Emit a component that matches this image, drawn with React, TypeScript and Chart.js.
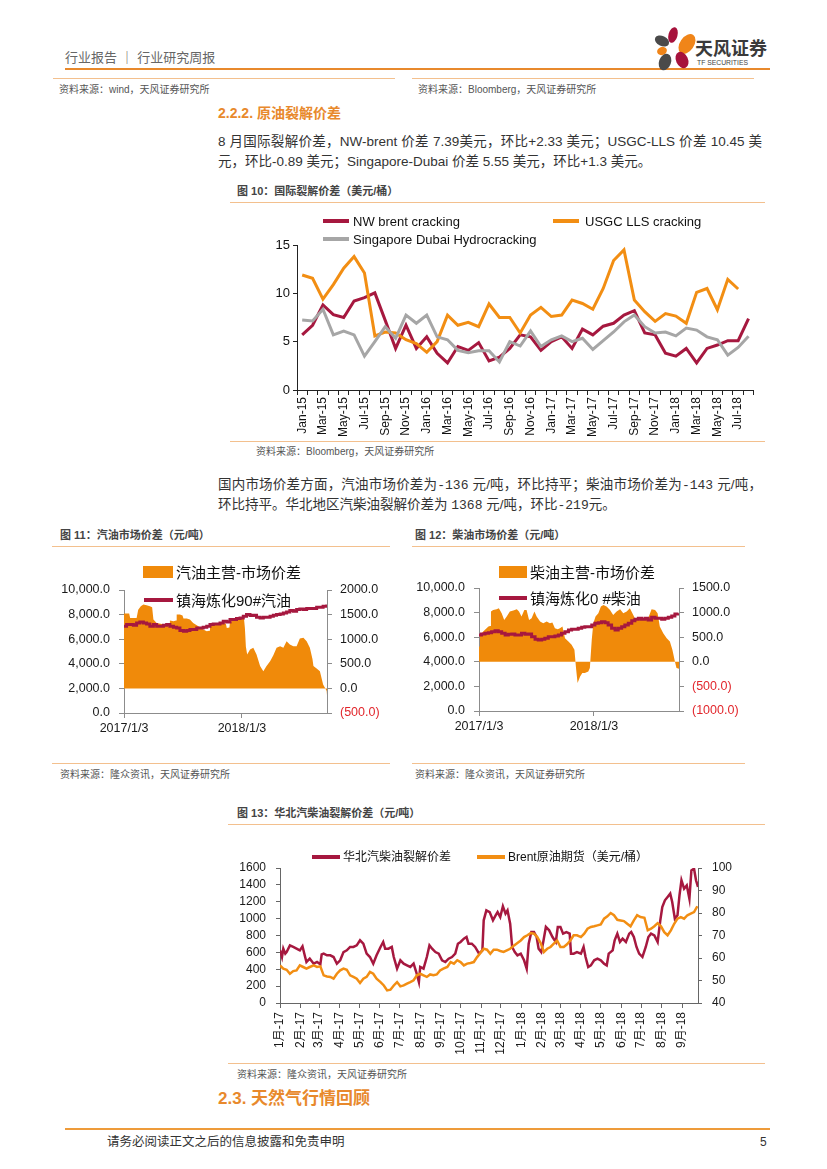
import React, { useEffect, useRef } from 'react';
import { Chart, registerables } from 'chart.js';
Chart.register(...registerables);

const LAT = "'Liberation Sans', Arial, 'Noto Sans CJK SC', sans-serif";
const CJK = "'Liberation Sans', 'Noto Sans CJK SC', sans-serif";
const MONO = "'Liberation Mono', 'DejaVu Sans Mono', monospace";

const RED = '#A6183F';
const ORANGE = '#F28E13';
const GRAY = '#A6A6A6';
const AREA = '#F08A0A';
const HEAD = '#E8892C';
const THIN = '#F3C08E';

// ---------- Figure 10: international cracking spreads (USD/bbl) ----------
const months = [
  'Jan-15','Feb-15','Mar-15','Apr-15','May-15','Jun-15','Jul-15','Aug-15','Sep-15','Oct-15','Nov-15','Dec-15',
  'Jan-16','Feb-16','Mar-16','Apr-16','May-16','Jun-16','Jul-16','Aug-16','Sep-16','Oct-16','Nov-16','Dec-16',
  'Jan-17','Feb-17','Mar-17','Apr-17','May-17','Jun-17','Jul-17','Aug-17','Sep-17','Oct-17','Nov-17','Dec-17',
  'Jan-18','Feb-18','Mar-18','Apr-18','May-18','Jun-18','Jul-18','Aug-18',
];
const nwBrent = [
  5.7,6.7,8.8,7.8,7.5,9.2,9.55,10.05,7.2,4.3,6.7,4.3,
  5.5,3.8,2.8,4.5,4.1,4.9,3.0,3.4,4.3,5.7,5.5,4.1,
  5.0,5.5,4.3,6.3,5.7,6.6,6.9,7.75,8.2,5.9,5.7,3.8,
  3.5,4.3,2.8,4.3,4.65,5.1,5.1,7.39,
];
const usgcLls = [
  11.9,11.55,9.4,10.9,12.6,13.8,12.1,5.6,6.0,5.9,5.2,4.8,
  3.9,5.0,7.75,6.7,7.0,6.55,8.9,7.5,7.5,5.9,7.75,8.55,
  7.6,7.75,9.3,8.95,8.35,10.5,13.4,14.5,9.3,8.1,7.1,7.9,
  7.65,6.9,10.1,10.5,8.3,11.45,10.45,null,
];
const singDubai = [
  7.25,7.15,8.35,5.7,6.1,5.7,3.5,5.0,6.55,5.35,7.75,6.9,
  7.75,5.5,5.2,4.1,3.85,4.05,4.05,2.9,5.0,4.55,6.1,4.5,
  5.2,5.6,5.0,5.35,4.2,5.1,6.0,7.05,7.75,6.55,5.9,6.0,
  5.6,6.4,6.2,5.5,5.2,3.6,4.4,5.55,
];

// ---------- Figure 11: gasoline (days since 2017/1/3) ----------
const dateTickDays = [0, 365];
const dateTickLabels = ['2017/1/3', '2018/1/3'];
const gasDays = [0,16,19,39,44,52,60,70,80,87,91,101,117,132,140,142,153,161,163,173,181,184,194,204,214,230,245,256,264,266,281,297,307,315,318,326,328,343,359,371,374,377,381,390,400,410,421,431,441,452,462,472,483,493,503,513,524,534,544,555,565,575,583,586,596,606,616,627,628];
const gasSpread = [1520,1520,1432,1432,1600,1669,1703,1689,1669,1650,1399,1331,1311,1284,1300,1378,1365,1380,1500,1500,1480,1419,1419,1399,1331,1264,1196,1162,1170,1264,1297,1297,1331,1320,1230,1240,1351,1399,1432,1432,1230,850,689,790,824,689,453,351,453,554,676,824,858,824,960,892,858,858,1014,1027,960,824,600,453,405,351,81,-54,-136];
const gasPriceDays = [0,8,29,39,49,60,70,80,91,101,111,122,132,142,153,163,173,184,194,204,214,225,235,245,256,266,276,287,297,307,318,328,338,348,359,369,379,390,400,410,421,431,441,452,462,472,483,493,503,513,524,534,544,555,565,575,586,596,606,616,627];
const gasPrice = [7054,7190,7136,7325,7406,7325,7244,7054,7190,7054,7054,7136,7190,7054,6974,6920,6704,6650,6704,6785,6785,6920,6920,6974,7054,7190,7244,7244,7325,7460,7406,7595,7595,7676,7730,7866,8001,7920,7947,7785,7730,7785,7785,7866,7947,8001,8055,8136,8217,8325,8271,8406,8460,8406,8487,8487,8487,8595,8595,8676,8812];

// ---------- Figure 12: diesel ----------
const dslDays = [0,3,6,8,19,30,35,38,45,56,63,72,80,88,98,109,120,127,135,144,151,159,167,176,183,194,204,215,225,233,241,250,257,265,273,284,294,303,308,313,321,328,336,347,352,358,363,370,379,387,395,405,416,426,437,448,458,469,479,487,495,506,516,527,537,548,559,567,574,585,596,606,614,622,627,635];
const dslSpread = [311,540,547,581,649,716,730,1020,1054,1068,1088,987,851,919,1020,1041,1068,1020,919,1054,1054,851,885,1020,919,818,784,818,784,798,683,662,683,716,480,412,345,243,-128,-433,-297,-230,-230,-196,-128,446,784,919,987,1122,1156,1122,1054,953,1020,1068,987,1020,1088,987,885,851,865,865,885,1068,1054,987,716,581,480,412,243,7,-128,-143];
const dslPriceDays = [0,8,19,30,40,51,61,72,83,93,104,114,125,135,146,157,167,178,188,199,209,220,231,241,252,262,273,284,294,305,315,326,336,347,358,368,379,389,400,410,421,432,442,453,463,474,485,495,506,516,527,537,548,559,569,580,590,601,612,622,633];
const dslPrice = [6179,6260,6314,6369,6450,6531,6450,6314,6179,6233,6260,6179,6179,6314,6233,6260,6043,5827,5772,5827,5908,6043,6043,6098,6179,6314,6450,6585,6640,6640,6721,6802,6856,6856,6992,7127,7182,7263,7182,6992,6721,6585,6721,6856,6992,7127,7344,7453,7534,7453,7534,7398,7615,7534,7534,7453,7534,7615,7723,7886,7940];

// ---------- Figure 13: North China crack spread (days since 2017/1/1) ----------
const monthTickDays = [0,31,59,90,120,151,181,212,243,273,304,334,365,396,424,455,485,516,546,577,608];
const monthTickLabels = ['1月-17','2月-17','3月-17','4月-17','5月-17','6月-17','7月-17','8月-17','9月-17','10月-17','11月-17','12月-17','1月-18','2月-18','3月-18','4月-18','5月-18','6月-18','7月-18','8月-18','9月-18'];
const crackDays = [0,3,5,8,10,15,20,25,30,34,38,40,45,51,56,61,63,66,71,76,81,86,91,96,101,106,111,116,121,126,131,136,141,146,152,156,159,164,169,172,177,182,187,192,197,202,206,210,212,217,222,226,230,235,240,245,250,255,260,265,269,273,278,282,285,290,295,301,306,308,312,317,322,326,329,333,337,341,344,348,351,355,359,364,369,373,376,380,384,388,391,395,398,402,407,412,417,420,424,428,433,438,440,444,449,455,459,462,466,470,475,480,485,490,494,497,503,506,510,514,518,523,528,531,535,539,543,548,553,557,561,566,571,575,578,582,586,590,593,597,601,604,607,611,615,619,622,626,629,632];
const crackSpread = [624,545,644,585,604,683,664,644,624,672,545,486,525,466,486,458,577,585,565,565,545,466,506,604,624,664,664,683,743,703,585,545,466,565,664,723,644,644,664,545,407,506,466,446,427,466,367,249,427,407,545,683,644,604,585,506,486,525,545,585,703,723,762,782,703,703,664,585,624,980,1098,1078,980,1039,1078,1019,1146,1059,1098,940,664,604,565,585,506,407,703,841,841,782,644,604,723,901,861,782,723,901,901,822,841,822,585,585,604,585,664,545,427,446,506,525,506,466,446,585,624,743,822,723,762,723,822,841,782,664,585,545,664,782,822,802,723,980,1138,1217,1256,1296,1197,999,1039,1276,1454,1355,1394,1236,1572,1592,1454,1375];
const brentDays = [0,5,10,15,20,25,30,35,40,45,51,56,61,66,71,76,81,86,91,96,101,106,111,116,121,126,131,136,141,146,152,157,162,167,172,177,182,187,192,197,202,207,212,217,222,227,232,237,242,247,253,258,263,268,273,278,283,288,293,298,303,308,313,318,323,328,333,338,343,348,354,359,364,369,374,379,384,389,394,399,404,409,414,419,424,429,434,439,444,449,455,460,465,470,475,480,485,490,495,500,505,510,515,520,525,530,535,540,545,551,556,561,566,571,576,581,586,591,596,601,606,611,616,621,626,631];
const brentPrice = [56.7,55.3,54.8,53.0,54.2,54.5,56.7,56.0,55.3,56.0,56.7,56.0,56.3,52.3,51.8,51.6,50.8,53.0,54.5,55.3,54.8,52.3,51.6,50.8,48.9,50.8,51.6,53.8,53.0,50.8,49.3,47.8,45.6,45.9,47.8,49.3,47.4,47.8,48.6,49.3,50.1,52.3,53.0,52.3,51.6,52.7,52.3,52.7,54.5,55.3,56.0,58.2,57.5,59.0,58.2,56.7,57.5,57.8,58.2,60.4,62.2,64.1,63.7,61.9,63.7,63.7,63.1,62.7,63.4,64.1,65.6,66.7,67.8,69.3,70.1,71.1,70.8,69.3,66.7,62.7,64.1,64.9,66.4,67.8,64.9,64.9,66.1,67.8,70.1,70.1,69.3,70.8,73.0,73.8,74.1,74.5,74.9,77.5,78.5,80.0,79.0,77.0,76.7,76.4,75.2,74.1,76.7,79.0,78.2,77.9,72.3,73.0,74.1,75.5,74.1,71.5,70.1,72.3,75.2,77.5,78.2,77.5,79.0,79.7,80.4,83.0];

// ---------- helpers ----------
const pts = (xs: number[], ys: number[]) => xs.map((x, i) => ({ x, y: ys[i] }));
const fmtComma = (v: number) => {
  const s = Math.abs(v).toFixed(1);
  const [i, d] = s.split('.');
  const ic = i.replace(/\B(?=(\d{3})+(?!\d))/g, ',');
  return v < 0 ? `(${ic}.${d})` : `${ic}.${d}`;
};
const fmtPlain = (v: number) => (v < 0 ? `(${Math.abs(v).toFixed(1)})` : v.toFixed(1));
const negColor = (ctx: any) => (ctx.tick && ctx.tick.value < 0 ? '#E2262C' : '#1a1a1a');
const tickGrid = (color: string, len = 5) => ({
  display: true, drawOnChartArea: false, drawTicks: true, tickLength: len, color, lineWidth: 1,
});

function ChartCanvas({ left, top, width, height, build }: any) {
  const ref = useRef<HTMLCanvasElement>(null);
  useEffect(() => {
    const chart = new Chart(ref.current as HTMLCanvasElement, build());
    return () => chart.destroy();
  }, []);
  return (
    <canvas ref={ref} width={width} height={height}
      style={{ position: 'absolute', left, top, width, height }} />
  );
}

const T = ({ x, y, s, c = '#333', w = 400, f = CJK, children, style }: any) => (
  <div style={{
    position: 'absolute', left: x, top: y - s / 2, fontSize: s, lineHeight: `${s}px`,
    color: c, fontWeight: w, fontFamily: f, whiteSpace: 'nowrap', ...style,
  }}>{children}</div>
);
const HLine = ({ x, y, w, h = 1, c = THIN }: any) => (
  <div style={{ position: 'absolute', left: x, top: y, width: w, height: h, background: c }} />
);
const Para = ({ y, justify, children }: any) => (
  <div style={{
    position: 'absolute', left: 218, top: y - 10, width: 544, height: 20, lineHeight: '20px',
    fontSize: 13.5, fontFamily: CJK, color: '#333', whiteSpace: 'nowrap',
    textAlign: justify ? 'justify' : 'left', textAlignLast: justify ? 'justify' : 'auto',
  } as any}>{children}</div>
);
const M = ({ children }: any) => <span style={{ fontFamily: MONO, fontSize: 13 }}>{children}</span>;

// ---------- chart configs ----------
const buildFig10 = (): any => ({
  type: 'line',
  data: {
    labels: months,
    datasets: [
      { label: 'NW brent cracking', data: nwBrent, borderColor: RED, borderWidth: 3, pointRadius: 0, order: 2 },
      { label: 'USGC LLS cracking', data: usgcLls, borderColor: ORANGE, borderWidth: 3, pointRadius: 0, order: 1 },
      { label: 'Singapore Dubai Hydrocracking', data: singDubai, borderColor: GRAY, borderWidth: 3, pointRadius: 0, order: 0 },
    ],
  },
  options: {
    responsive: false, animation: false,
    layout: { padding: { top: 40, right: 6, left: 0, bottom: 0 } },
    plugins: { legend: { display: false }, tooltip: { enabled: false } },
    scales: {
      x: {
        type: 'category', offset: true,
        grid: { ...tickGrid('#222', 5), offset: true },
        border: { display: true, color: '#222' },
        ticks: {
          autoSkip: false, minRotation: 90, maxRotation: 90, padding: 2, color: '#111',
          font: { family: LAT, size: 12 },
          callback: (_v: any, i: number) => (i % 2 === 0 ? months[i] : ''),
        },
        afterFit: (s: any) => { s.height = 51; },
      },
      y: {
        min: 0, max: 15,
        ticks: { stepSize: 5, padding: 3, color: '#111', font: { family: LAT, size: 13 } },
        grid: tickGrid('#222', 4),
        border: { display: true, color: '#222' },
        afterFit: (s: any) => { s.width = 67; },
      },
    },
  },
});

const buildSpread = (o: any): any => ({
  type: 'line',
  data: {
    datasets: [
      { label: o.lineLabel, data: pts(o.lineDays, o.lineVals), yAxisID: 'y', borderColor: RED, borderWidth: 3, pointRadius: 0, stepped: true, order: 0 },
      { label: o.areaLabel, data: pts(o.areaDays, o.areaVals), yAxisID: 'y1', borderWidth: 0, borderColor: AREA, backgroundColor: AREA, fill: 'origin', pointRadius: 0, order: 1 },
    ],
  },
  options: {
    responsive: false, animation: false,
    layout: { padding: { top: o.padTop, right: 0, left: 0, bottom: 0 } },
    plugins: { legend: { display: false }, tooltip: { enabled: false } },
    scales: {
      x: {
        type: 'linear', min: 0, max: o.maxDay,
        afterBuildTicks: (s: any) => { s.ticks = dateTickDays.map((v) => ({ value: v })); },
        ticks: {
          autoSkip: false, minRotation: 0, maxRotation: 0, padding: 3, color: '#1a1a1a',
          font: { family: LAT, size: 12.5 },
          callback: (_v: any, i: number) => dateTickLabels[i],
        },
        grid: tickGrid('#8c8c8c', 5),
        border: { display: true, color: '#8c8c8c' },
        afterFit: (s: any) => { s.height = o.xH; },
      },
      y: {
        position: 'left', min: 0, max: 10000,
        ticks: { stepSize: 2000, autoSkip: false, padding: 9, color: '#1a1a1a', font: { family: LAT, size: 12.5 }, callback: (v: number) => fmtComma(v) },
        grid: tickGrid('#8c8c8c', 5),
        border: { display: true, color: '#8c8c8c' },
        afterFit: (s: any) => { s.width = o.yLW; },
      },
      y1: {
        position: 'right', min: o.rMin, max: o.rMax,
        ticks: { stepSize: 500, autoSkip: false, padding: 8, color: negColor, font: { family: LAT, size: 12.5 }, callback: (v: number) => fmtPlain(v) },
        grid: tickGrid('#8c8c8c', 5),
        border: { display: true, color: '#8c8c8c' },
        afterFit: (s: any) => { s.width = o.yRW; },
      },
    },
  },
});

const buildFig13 = (): any => ({
  type: 'line',
  data: {
    datasets: [
      { label: '华北汽柴油裂解价差', data: pts(crackDays, crackSpread), yAxisID: 'y', borderColor: RED, borderWidth: 2.5, pointRadius: 0, order: 1 },
      { label: 'Brent原油期货（美元/桶）', data: pts(brentDays, brentPrice), yAxisID: 'y1', borderColor: ORANGE, borderWidth: 2.5, pointRadius: 0, order: 0 },
    ],
  },
  options: {
    responsive: false, animation: false,
    layout: { padding: { top: 38, right: 0, left: 0, bottom: 0 } },
    plugins: { legend: { display: false }, tooltip: { enabled: false } },
    scales: {
      x: {
        type: 'linear', min: 0, max: 632,
        afterBuildTicks: (s: any) => { s.ticks = monthTickDays.map((v) => ({ value: v })); },
        ticks: {
          autoSkip: false, minRotation: 90, maxRotation: 90, padding: 4, color: '#1a1a1a',
          font: { family: LAT, size: 12 },
          callback: (_v: any, i: number) => monthTickLabels[i],
        },
        grid: tickGrid('#666', 5),
        border: { display: true, color: '#666' },
        afterFit: (s: any) => { s.height = 57; },
      },
      y: {
        position: 'left', min: 0, max: 1600,
        ticks: { stepSize: 200, autoSkip: false, padding: 10, color: '#1a1a1a', font: { family: LAT, size: 12 }, callback: (v: number) => String(v) },
        grid: tickGrid('#666', 4),
        border: { display: true, color: '#666' },
        afterFit: (s: any) => { s.width = 52; },
      },
      y1: {
        position: 'right', min: 40, max: 100,
        ticks: { stepSize: 10, autoSkip: false, padding: 10, color: '#1a1a1a', font: { family: LAT, size: 12 }, callback: (v: number) => String(v) },
        grid: tickGrid('#666', 4),
        border: { display: true, color: '#666' },
        afterFit: (s: any) => { s.width = 67; },
      },
    },
  },
});

const Logo = () => (
  <svg style={{ position: 'absolute', left: 647, top: 24 }} width={55} height={52}>
    <ellipse cx={26} cy={11} rx={4.5} ry={8} fill="#A6123C" transform="rotate(15 26 11)" />
    <ellipse cx={40} cy={20} rx={7} ry={11} fill="#F08519" transform="rotate(35 40 20)" />
    <ellipse cx={15} cy={17} rx={7.5} ry={5} fill="#4A4A4A" transform="rotate(25 15 17)" />
    <ellipse cx={15} cy={27} rx={5} ry={4} fill="#F08519" transform="rotate(-20 15 27)" />
    <ellipse cx={35} cy={36} rx={6} ry={8.5} fill="#A6123C" transform="rotate(-25 35 36)" />
    <ellipse cx={18} cy={38} rx={6} ry={8.5} fill="#4A4A4A" transform="rotate(20 18 38)" />
  </svg>
);

const LegLine = ({ x, y, w, c, h = 4 }: any) => (
  <div style={{ position: 'absolute', left: x, top: y - h / 2, width: w, height: h, background: c, zIndex: 2 }} />
);

export default function App() {
  return (
    <div style={{ position: 'absolute', left: 0, top: 0, width: 827, height: 1169, background: '#fff', overflow: 'hidden', fontFamily: CJK }}>
      {/* header */}
      <T x={65} y={57} s={13} c="#666">行业报告 ｜ 行业研究周报</T>
      <HLine x={65} y={68} w={705} h={2} c={HEAD} />
      <Logo />
      <T x={695} y={49} s={18} w={700} c="#3A3A3A">天风证券</T>
      <T x={697} y={63.5} s={6.8} c="#444" f={LAT}>TF SECURITIES</T>

      <HLine x={53} y={78} w={342} />
      <HLine x={412} y={78} w={342} />
      <T x={59} y={90} s={10} c="#555">资料来源：wind，天风证券研究所</T>
      <T x={418} y={90} s={10} c="#555">资料来源：Bloomberg，天风证券研究所</T>

      <T x={218} y={113} s={14} w={700} c={HEAD}>2.2.2. 原油裂解价差</T>
      <Para y={142} justify>8 月国际裂解价差，NW-brent 价差 7.39美元，环比+2.33 美元；USGC-LLS 价差 10.45 美</Para>
      <Para y={162}>元，环比-0.89 美元；Singapore-Dubai 价差 5.55 美元，环比+1.3 美元。</Para>

      {/* figure 10 */}
      <T x={237} y={191} s={11} w={700} c="#444">图 10：国际裂解价差（美元/桶）</T>
      <HLine x={230} y={202} w={535} />
      <ChartCanvas left={230} top={205} width={535} height={236} build={buildFig10} />
      <LegLine x={323} y={221} w={26} c={RED} />
      <T x={353} y={221} s={13} c="#111" f={LAT}>NW brent cracking</T>
      <LegLine x={553} y={221} w={26} c={ORANGE} />
      <T x={585} y={221} s={13} c="#111" f={LAT}>USGC LLS cracking</T>
      <LegLine x={323} y={239} w={26} c={GRAY} />
      <T x={353} y={239} s={13} c="#111" f={LAT}>Singapore Dubai Hydrocracking</T>
      <HLine x={230} y={441} w={535} />
      <T x={256} y={452} s={10} c="#555">资料来源：Bloomberg，天风证券研究所</T>

      <Para y={485} justify>国内市场价差方面，汽油市场价差为<M>-136</M> 元/吨，环比持平；柴油市场价差为<M>-143</M> 元/吨，</Para>
      <Para y={505}>环比持平。华北地区汽柴油裂解价差为 <M>1368</M> 元/吨，环比<M>-219</M>元。</Para>

      {/* figure 11 */}
      <T x={60} y={535} s={11} w={700} c="#444">图 11：汽油市场价差（元/吨）</T>
      <HLine x={52} y={546} w={338} />
      <ChartCanvas left={52} top={550} width={338} height={190} build={() => buildSpread({
        lineLabel: '镇海炼化90#汽油', lineDays: gasPriceDays, lineVals: gasPrice,
        areaLabel: '汽油主营-市场价差', areaDays: gasDays, areaVals: gasSpread,
        padTop: 40, maxDay: 628, xH: 27, yLW: 72, yRW: 63, rMin: -500, rMax: 2000,
      })} />
      <div style={{ position: 'absolute', left: 143, top: 566, width: 30, height: 12, background: AREA, zIndex: 2 }} />
      <T x={176} y={572} s={15} c="#111" style={{ zIndex: 2 }}>汽油主营-市场价差</T>
      <LegLine x={144} y={600} w={29} c={RED} h={3.5} />
      <T x={176} y={600} s={15} c="#111" style={{ zIndex: 2 }}>镇海炼化90#汽油</T>
      <HLine x={52} y={763} w={338} />
      <T x={60} y={775} s={10} c="#555">资料来源：隆众资讯，天风证券研究所</T>

      {/* figure 12 */}
      <T x={415} y={535} s={11} w={700} c="#444">图 12：柴油市场价差（元/吨）</T>
      <HLine x={412} y={546} w={333} />
      <ChartCanvas left={412} top={550} width={333} height={190} build={() => buildSpread({
        lineLabel: '镇海炼化0 #柴油', lineDays: dslPriceDays, lineVals: dslPrice,
        areaLabel: '柴油主营-市场价差', areaDays: dslDays, areaVals: dslSpread,
        padTop: 38, maxDay: 635, xH: 29, yLW: 67, yRW: 66, rMin: -1000, rMax: 1500,
      })} />
      <div style={{ position: 'absolute', left: 499, top: 566, width: 28, height: 12, background: AREA, zIndex: 2 }} />
      <T x={530} y={572} s={15} c="#111" style={{ zIndex: 2 }}>柴油主营-市场价差</T>
      <LegLine x={499} y={598} w={28} c={RED} h={3.5} />
      <T x={530} y={598} s={15} c="#111" style={{ zIndex: 2 }}>镇海炼化0 #柴油</T>
      <HLine x={412} y={763} w={333} />
      <T x={415} y={775} s={10} c="#555">资料来源：隆众资讯，天风证券研究所</T>

      {/* figure 13 */}
      <T x={237} y={813} s={11} w={700} c="#444">图 13：华北汽柴油裂解价差（元/吨）</T>
      <HLine x={228} y={824} w={537} />
      <ChartCanvas left={228} top={830} width={537} height={230} build={buildFig13} />
      <LegLine x={312} y={857} w={28} c={RED} />
      <T x={343} y={857} s={12} c="#111">华北汽柴油裂解价差</T>
      <LegLine x={477} y={857} w={28} c={ORANGE} />
      <T x={508} y={857} s={12} c="#111">Brent原油期货（美元/桶）</T>
      <HLine x={228} y={1063} w={537} />
      <T x={237} y={1075} s={10} c="#555">资料来源：隆众资讯，天风证券研究所</T>

      <T x={218} y={1098} s={17} w={700} c={HEAD}>2.3. 天然气行情回顾</T>

      {/* footer */}
      <HLine x={65} y={1128} w={705} h={2} c="#EE9B3A" />
      <T x={107} y={1142} s={12.5} c="#333">请务必阅读正文之后的信息披露和免责申明</T>
      <T x={760} y={1142} s={12} c="#333" f={LAT}>5</T>
    </div>
  );
}
